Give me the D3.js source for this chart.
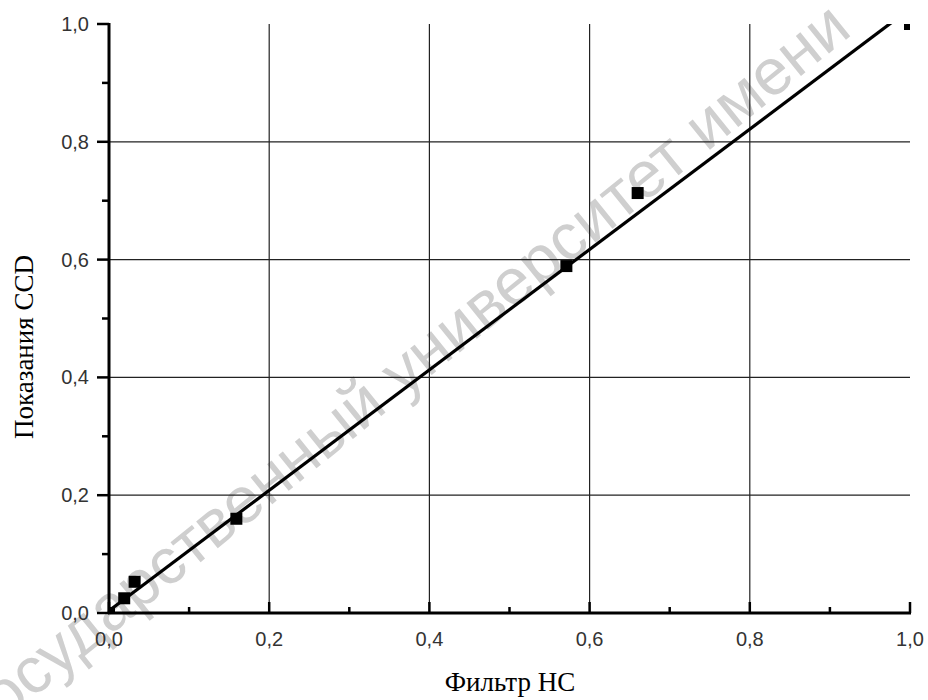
<!DOCTYPE html>
<html>
<head>
<meta charset="utf-8">
<script src="https://cdn.jsdelivr.net/npm/d3@7"></script>
<style>
  html, body { margin: 0; padding: 0; background: #fff; }
  svg { display: block; }
</style>
</head>
<body>
<script>
// Measured points: neutral-density filter transmission vs CCD reading
const filterValues = [0.0, 0.019, 0.032, 0.159, 0.571, 0.660, 1.0];
const ccdValues    = [0.0, 0.025, 0.053, 0.160, 0.589, 0.713, 1.0];
// Linear fit y = intercept + slope * x
const fitIntercept = 0.004;
const fitSlope = 1.022;
const majorTicks = [0, 0.2, 0.4, 0.6, 0.8, 1.0];
const minorTicks = [0.1, 0.3, 0.5, 0.7, 0.9];
const xTitle = "Фильтр НС";
const yTitle = "Показания CCD";
const watermark = "государственный университет имени";

const W = 928, H = 700;
const mLeft = 109, mRight = 910, mTop = 24, mBottom = 613;

const svg = d3.select("body").append("svg")
  .attr("width", W).attr("height", H);

const x = d3.scaleLinear().domain([0, 1]).range([mLeft, mRight]);
const y = d3.scaleLinear().domain([0, 1]).range([mBottom, mTop]);
const fmt = v => d3.format(".1f")(v).replace(".", ",");

// faint diagonal watermark behind everything
svg.append("text")
  .attr("transform", "translate(-14,736) rotate(-39)")
  .attr("font-family", "Liberation Sans, Arial, sans-serif")
  .attr("font-size", 65)
  .attr("fill", "#cfcfcf")
  .text(watermark);

// grid lines at inner major ticks
const inner = majorTicks.filter(t => t > 0 && t < 1);
svg.append("g").selectAll("line").data(inner).join("line")
  .attr("x1", d => x(d)).attr("x2", d => x(d))
  .attr("y1", y(1)).attr("y2", y(0))
  .attr("stroke", "#222").attr("stroke-width", 1.2);
svg.append("g").selectAll("line").data(inner).join("line")
  .attr("y1", d => y(d)).attr("y2", d => y(d))
  .attr("x1", x(0)).attr("x2", x(1))
  .attr("stroke", "#222").attr("stroke-width", 1.2);

// x axis: ticks point up into the plot
const xAxis = svg.append("g").attr("transform", `translate(0,${mBottom})`);
xAxis.append("line").attr("x1", mLeft - 1).attr("x2", mRight + 1)
  .attr("stroke", "#000").attr("stroke-width", 3);
xAxis.selectAll(".maj").data(majorTicks).join("line")
  .attr("x1", d => x(d)).attr("x2", d => x(d)).attr("y1", 0).attr("y2", -11)
  .attr("stroke", "#000").attr("stroke-width", 2.5);
xAxis.selectAll(".min").data(minorTicks).join("line")
  .attr("x1", d => x(d)).attr("x2", d => x(d)).attr("y1", 0).attr("y2", -6)
  .attr("stroke", "#000").attr("stroke-width", 2.5);
xAxis.selectAll("text").data(majorTicks).join("text")
  .attr("x", d => x(d)).attr("y", 33)
  .attr("text-anchor", "middle")
  .attr("font-family", "Liberation Sans, Arial, sans-serif")
  .attr("font-size", 20).attr("fill", "#333")
  .text(fmt);

// y axis: ticks point outward to the left
const yAxis = svg.append("g").attr("transform", `translate(${mLeft},0)`);
yAxis.append("line").attr("y1", mTop - 1).attr("y2", mBottom + 1)
  .attr("stroke", "#000").attr("stroke-width", 3);
yAxis.selectAll(".maj").data(majorTicks).join("line")
  .attr("y1", d => y(d)).attr("y2", d => y(d)).attr("x1", 0).attr("x2", -12)
  .attr("stroke", "#000").attr("stroke-width", 2.5);
yAxis.selectAll(".min").data(minorTicks).join("line")
  .attr("y1", d => y(d)).attr("y2", d => y(d)).attr("x1", 0).attr("x2", -7)
  .attr("stroke", "#000").attr("stroke-width", 2.5);
yAxis.selectAll("text").data(majorTicks).join("text")
  .attr("x", -20).attr("y", d => y(d) + 7)
  .attr("text-anchor", "end")
  .attr("font-family", "Liberation Sans, Arial, sans-serif")
  .attr("font-size", 20).attr("fill", "#333")
  .text(fmt);

// clip region for data marks
svg.append("clipPath").attr("id", "plot")
  .append("rect").attr("x", mLeft).attr("y", mTop)
  .attr("width", mRight - mLeft).attr("height", mBottom - mTop);

const plot = svg.append("g").attr("clip-path", "url(#plot)");

// fitted line
plot.append("line")
  .attr("x1", x(0)).attr("y1", y(fitIntercept))
  .attr("x2", x(1)).attr("y2", y(fitIntercept + fitSlope))
  .attr("stroke", "#000").attr("stroke-width", 3.2);

// data squares
const pts = filterValues.map((v, i) => [v, ccdValues[i]]);
const s = 12;
plot.selectAll("rect.pt").data(pts).join("rect")
  .attr("x", d => x(d[0]) - s / 2).attr("y", d => y(d[1]) - s / 2)
  .attr("width", s).attr("height", s).attr("fill", "#000");

// axis titles
svg.append("text")
  .attr("x", 510).attr("y", 691)
  .attr("text-anchor", "middle")
  .attr("font-family", "Liberation Serif, Times New Roman, serif")
  .attr("font-size", 27).attr("fill", "#000")
  .text(xTitle);
svg.append("text")
  .attr("transform", "translate(33,347) rotate(-90)")
  .attr("text-anchor", "middle")
  .attr("font-family", "Liberation Serif, Times New Roman, serif")
  .attr("font-size", 27).attr("fill", "#000")
  .text(yTitle);
</script>
</body>
</html>
